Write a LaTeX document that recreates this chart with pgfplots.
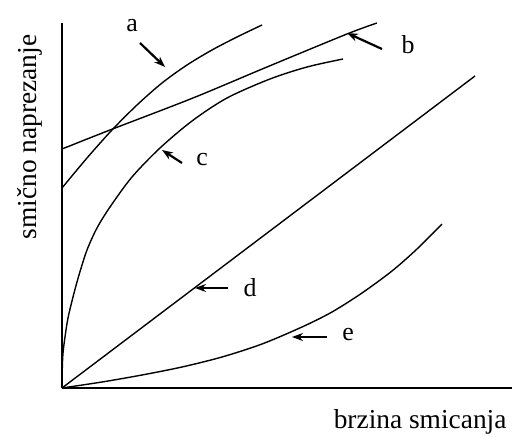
\documentclass[border=0pt]{standalone}
\usepackage{fontspec}
\setmainfont{Liberation Serif}
\usepackage{pgfplots}
\pgfplotsset{compat=1.18}
\usetikzlibrary{arrows.meta}

\tikzset{pointer/.style={line width=2.2pt, -{Stealth[length=11pt,width=8pt]}}}
\pgfplotsset{curve/.style={black, line width=1.4pt, smooth, mark=none}}

\begin{document}
\begin{tikzpicture}
\begin{axis}[
    scale only axis,
    width=450bp, height=365bp,
    xmin=0, xmax=450, ymin=0, ymax=365,
    axis lines=left,
    axis line style={-, line width=1.1pt},
    xtick=\empty, ytick=\empty,
    clip=false,
]
% a
\addplot[curve] coordinates {(0,200) (25,230) (50,258) (75,283) (100,305) (125,323) (150,338) (175,351) (200,363)};
% b
\addplot[curve] coordinates {(0,239) (48,258) (131,290) (205,321) (285,354) (315,365)};
% c
\addplot[curve] coordinates {(0,0) (0.3,20) (1,35) (3,51) (6,70) (11,91) (17,113) (25,138) (35,160) (48,181) (70,211) (98,240) (130,267) (165,290) (208,309) (245,321) (281,329)};
% d
\addplot[curve, sharp plot] coordinates {(0,0) (413,312)};
% e
\addplot[curve] coordinates {(0,0) (40,6) (80,13) (120,21) (160,31) (200,44) (240,61) (270,76) (300,95) (330,117) (355,139) (380,164)};

\draw[pointer] (axis cs:78,345) -- (axis cs:103,321);
\draw[pointer] (axis cs:320,339) -- (axis cs:285,355);
\draw[pointer] (axis cs:120,225) -- (axis cs:100,238);
\draw[pointer] (axis cs:166,100) -- (axis cs:133,100);
\draw[pointer] (axis cs:265,51) -- (axis cs:230,51);

\node[font=\fontsize{26}{28}\selectfont] at (axis cs:70,362) {a};
\node[font=\fontsize{26}{28}\selectfont] at (axis cs:346,343) {b};
\node[font=\fontsize{26}{28}\selectfont] at (axis cs:140,228) {c};
\node[font=\fontsize{26}{28}\selectfont] at (axis cs:188,100) {d};
\node[font=\fontsize{26}{28}\selectfont] at (axis cs:286,53) {e};

\node[font=\fontsize{27.5}{30}\selectfont, rotate=90] at (axis cs:-32,251) {smično naprezanje};
\node[font=\fontsize{27.5}{30}\selectfont, anchor=base east] at (axis cs:448,-40) {brzina smicanja};
\end{axis}
\pgfresetboundingbox
\path (-62bp,-49bp) rectangle (450bp,388bp);
\end{tikzpicture}
\end{document}
